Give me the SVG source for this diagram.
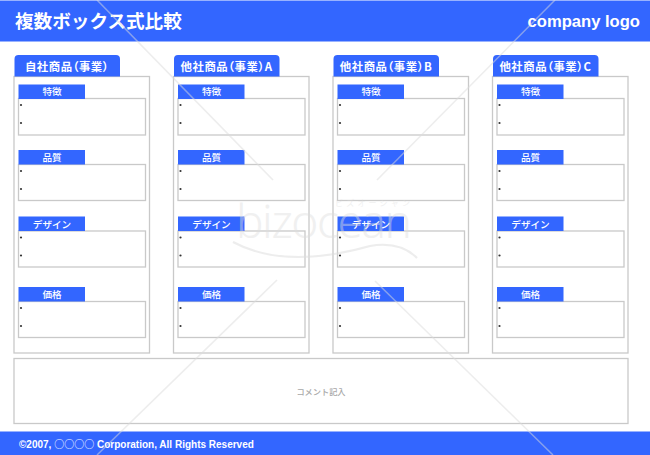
<svg xmlns="http://www.w3.org/2000/svg" width="650" height="455" viewBox="0 0 650 455">
<style>
text{font-family:"Liberation Sans","Noto Sans CJK JP",sans-serif}
.bar{fill:#3366ff}
.panel{fill:#fff;stroke:#c9c9c9;stroke-width:1.3}
.box{fill:#fff;stroke:#c9c9c9;stroke-width:1.3}
.tab{fill:#3366ff}
.h{fill:#3366ff}
.tt{fill:#fff;font-size:11.4px;font-weight:bold;text-anchor:middle;font-family:"Noto Sans CJK JP",sans-serif;font-feature-settings:"palt";letter-spacing:.55px}
.ht{fill:#fff;font-size:9.6px;text-anchor:middle;font-weight:500}
.dot{fill:#333}
.wm{stroke:#dcdcdc;stroke-width:1.5;fill:none;opacity:.5}
</style>
<defs>
<g id="dots"><circle cx="2.5" cy="6.5" r="1.1"/><circle cx="2.5" cy="24.5" r="1.1"/></g>
</defs>
<g id="header">
<rect class="bar" x="0" y="0.5" width="650" height="41"/>
<text x="15" y="28" fill="#fff" font-size="18.6" font-weight="bold">複数ボックス式比較</text>
<text x="640" y="27" fill="#fff" font-size="16.6" font-weight="bold" text-anchor="end">company logo</text>
</g>
<g id="col-1" transform="translate(14 0)">
<rect class="panel" x="0" y="76.5" width="135.5" height="276.5"/>
<path class="tab" d="M0.5 76.5V59a4 4 0 0 1 4-4H102a4 4 0 0 1 4 4V76.5Z"/>
<text class="tt" x="53" y="71">自社商品（事業）</text>
<g><rect class="box" x="4.5" y="98.5" width="127" height="36.5"/><rect class="h" x="4.5" y="84.5" width="66.5" height="14.5"/><text class="ht" x="38" y="95">特徴</text><use href="#dots" class="dot" x="4.5" y="98.5"/></g>
<g><rect class="box" x="4.5" y="164.5" width="127" height="36"/><rect class="h" x="4.5" y="150" width="66.5" height="14.5"/><text class="ht" x="38" y="161">品質</text><use href="#dots" class="dot" x="4.5" y="164.5"/></g>
<g><rect class="box" x="4.5" y="231" width="127" height="36"/><rect class="h" x="4.5" y="216.5" width="66.5" height="14.5"/><text class="ht" x="38" y="227.5">デザイン</text><use href="#dots" class="dot" x="4.5" y="231"/></g>
<g><rect class="box" x="4.5" y="301.5" width="127" height="36"/><rect class="h" x="4.5" y="287" width="66.5" height="14.5"/><text class="ht" x="38" y="298">価格</text><use href="#dots" class="dot" x="4.5" y="301.5"/></g>
</g>
<g id="col-2" transform="translate(173.5 0)">
<rect class="panel" x="0" y="76.5" width="135.5" height="276.5"/>
<path class="tab" d="M0.5 76.5V59a4 4 0 0 1 4-4H102a4 4 0 0 1 4 4V76.5Z"/>
<text class="tt" x="53" y="71">他社商品（事業）A</text>
<g><rect class="box" x="4.5" y="98.5" width="127" height="36.5"/><rect class="h" x="4.5" y="84.5" width="66.5" height="14.5"/><text class="ht" x="38" y="95">特徴</text><use href="#dots" class="dot" x="4.5" y="98.5"/></g>
<g><rect class="box" x="4.5" y="164.5" width="127" height="36"/><rect class="h" x="4.5" y="150" width="66.5" height="14.5"/><text class="ht" x="38" y="161">品質</text><use href="#dots" class="dot" x="4.5" y="164.5"/></g>
<g><rect class="box" x="4.5" y="231" width="127" height="36"/><rect class="h" x="4.5" y="216.5" width="66.5" height="14.5"/><text class="ht" x="38" y="227.5">デザイン</text><use href="#dots" class="dot" x="4.5" y="231"/></g>
<g><rect class="box" x="4.5" y="301.5" width="127" height="36"/><rect class="h" x="4.5" y="287" width="66.5" height="14.5"/><text class="ht" x="38" y="298">価格</text><use href="#dots" class="dot" x="4.5" y="301.5"/></g>
</g>
<g id="col-3" transform="translate(333 0)">
<rect class="panel" x="0" y="76.5" width="135.5" height="276.5"/>
<path class="tab" d="M0.5 76.5V59a4 4 0 0 1 4-4H102a4 4 0 0 1 4 4V76.5Z"/>
<text class="tt" x="53" y="71">他社商品（事業）B</text>
<g><rect class="box" x="4.5" y="98.5" width="127" height="36.5"/><rect class="h" x="4.5" y="84.5" width="66.5" height="14.5"/><text class="ht" x="38" y="95">特徴</text><use href="#dots" class="dot" x="4.5" y="98.5"/></g>
<g><rect class="box" x="4.5" y="164.5" width="127" height="36"/><rect class="h" x="4.5" y="150" width="66.5" height="14.5"/><text class="ht" x="38" y="161">品質</text><use href="#dots" class="dot" x="4.5" y="164.5"/></g>
<g><rect class="box" x="4.5" y="231" width="127" height="36"/><rect class="h" x="4.5" y="216.5" width="66.5" height="14.5"/><text class="ht" x="38" y="227.5">デザイン</text><use href="#dots" class="dot" x="4.5" y="231"/></g>
<g><rect class="box" x="4.5" y="301.5" width="127" height="36"/><rect class="h" x="4.5" y="287" width="66.5" height="14.5"/><text class="ht" x="38" y="298">価格</text><use href="#dots" class="dot" x="4.5" y="301.5"/></g>
</g>
<g id="col-4" transform="translate(492.5 0)">
<rect class="panel" x="0" y="76.5" width="135.5" height="276.5"/>
<path class="tab" d="M0.5 76.5V59a4 4 0 0 1 4-4H102a4 4 0 0 1 4 4V76.5Z"/>
<text class="tt" x="53" y="71">他社商品（事業）C</text>
<g><rect class="box" x="4.5" y="98.5" width="127" height="36.5"/><rect class="h" x="4.5" y="84.5" width="66.5" height="14.5"/><text class="ht" x="38" y="95">特徴</text><use href="#dots" class="dot" x="4.5" y="98.5"/></g>
<g><rect class="box" x="4.5" y="164.5" width="127" height="36"/><rect class="h" x="4.5" y="150" width="66.5" height="14.5"/><text class="ht" x="38" y="161">品質</text><use href="#dots" class="dot" x="4.5" y="164.5"/></g>
<g><rect class="box" x="4.5" y="231" width="127" height="36"/><rect class="h" x="4.5" y="216.5" width="66.5" height="14.5"/><text class="ht" x="38" y="227.5">デザイン</text><use href="#dots" class="dot" x="4.5" y="231"/></g>
<g><rect class="box" x="4.5" y="301.5" width="127" height="36"/><rect class="h" x="4.5" y="287" width="66.5" height="14.5"/><text class="ht" x="38" y="298">価格</text><use href="#dots" class="dot" x="4.5" y="301.5"/></g>
</g>
<g id="comment">
<rect class="panel" x="14" y="358.5" width="614" height="65"/>
<text x="321" y="395" fill="#a8a8a8" font-size="8.2" text-anchor="middle" font-weight="500">コメント記入</text>
</g>
<g id="footer">
<rect class="bar" x="0" y="431.5" width="650" height="23.5"/>
<text x="19" y="448" fill="#fff" font-size="10" font-weight="bold">©2007, <tspan font-weight="normal" style="font-family:'Noto Sans CJK JP',sans-serif">○○○○</tspan> Corporation, All Rights Reserved</text>
</g>
<g id="connectors" class="wm">
<path d="M97 0L273 180"/><path d="M277 280L97 455"/><path d="M555 0L377 180"/><path d="M375 281L553 455"/>
<path d="M233 242Q285 270 370 246Q400 241 417 258" stroke-width="2"/>
</g>
<g id="watermark" opacity=".45">
<text x="236" y="238" font-size="46" fill="#dedede" style="font-family:'Noto Sans',sans-serif;font-weight:300" textLength="176">bizocean</text>
<text x="335" y="206" font-size="8" fill="#dedede" textLength="75">ビズオーシャン</text>
</g>
</svg>
